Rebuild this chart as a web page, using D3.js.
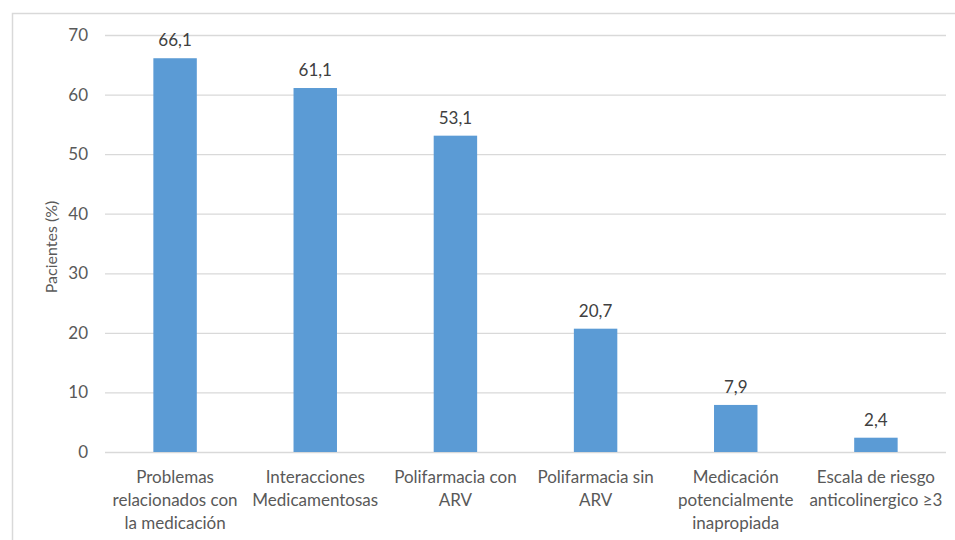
<!DOCTYPE html>
<html>
<head>
<meta charset="utf-8">
<script src="https://cdn.jsdelivr.net/npm/d3@7"></script>
<style>
  body { margin: 0; background: #fff; }
  text { font-family: Lato, "Open Sans", sans-serif; }
</style>
</head>
<body>
<div id="chart"></div>
<script>
var categories = [
    ["Problemas", "relacionados con", "la medicación"],
    ["Interacciones", "Medicamentosas"],
    ["Polifarmacia con", "ARV"],
    ["Polifarmacia sin", "ARV"],
    ["Medicación", "potencialmente", "inapropiada"],
    ["Escala de riesgo", "anticolinergico ≥3"]
];
var values = [66.1, 61.1, 53.1, 20.7, 7.9, 2.4];
var yTicks = [0, 10, 20, 30, 40, 50, 60, 70];

function go() {
    var width = 955, height = 540;
    var left = 105, right = 946, top = 35, bottom = 452;

    var svg = d3.select("#chart").append("svg")
        .attr("width", width)
        .attr("height", height);

    // outer frame
    svg.append("rect")
        .attr("x", 12.5).attr("y", 13.5)
        .attr("width", 960).attr("height", 560)
        .attr("fill", "none")
        .attr("stroke", "#d9d9d9")
        .attr("stroke-width", 1.5);

    var idx = categories.map(function (d, i) { return i; });
    var x = d3.scaleBand().domain(idx).range([left, right])
        .paddingInner(0.69).paddingOuter(0.345);
    var y = d3.scaleLinear().domain([0, 70]).range([bottom, top]);

    // gridlines
    svg.append("g").selectAll("line")
        .data(yTicks)
        .enter().append("line")
        .attr("x1", left).attr("x2", right)
        .attr("y1", function (d) { return y(d) + 0.5; })
        .attr("y2", function (d) { return y(d) + 0.5; })
        .attr("stroke", "#d9d9d9")
        .attr("stroke-width", 1.3);

    // y tick labels
    var yAxis = svg.append("g")
        .attr("transform", "translate(" + left + ",0)")
        .call(d3.axisLeft(y).tickValues(yTicks).tickSize(0).tickPadding(17).tickFormat(d3.format("d")));
    yAxis.select(".domain").remove();
    yAxis.selectAll("text")
        .attr("fill", "#595959")
        .style("font-size", "17px")
        .style("font-family", "Lato, sans-serif");

    // bars
    svg.append("g").selectAll("rect")
        .data(values)
        .enter().append("rect")
        .attr("x", function (d, i) { return x(i); })
        .attr("y", function (d) { return y(d); })
        .attr("width", x.bandwidth())
        .attr("height", function (d) { return y(0) - y(d); })
        .attr("fill", "#5b9bd5");

    // value labels
    svg.append("g").selectAll("text")
        .data(values)
        .enter().append("text")
        .attr("x", function (d, i) { return x(i) + x.bandwidth() / 2; })
        .attr("y", function (d) { return y(d) - 12; })
        .attr("text-anchor", "middle")
        .attr("fill", "#404040")
        .style("font-size", "17px")
        .text(function (d) { return d3.format(".1f")(d).replace(".", ","); });

    // category labels
    var cat = svg.append("g").selectAll("text")
        .data(categories)
        .enter().append("text")
        .attr("text-anchor", "middle")
        .attr("fill", "#595959")
        .style("font-size", "17px");
    cat.each(function (lines, i) {
        var t = d3.select(this);
        lines.forEach(function (l, j) {
            t.append("tspan")
                .attr("x", x(i) + x.bandwidth() / 2)
                .attr("y", 483 + j * 23)
                .text(l);
        });
    });

    // y axis title
    svg.append("text")
        .attr("transform", "translate(57,247) rotate(-90)")
        .attr("text-anchor", "middle")
        .attr("fill", "#595959")
        .style("font-size", "16px")
        .text("Pacientes (%)");
}

document.addEventListener("DOMContentLoaded", function () { go(); });
</script>
</body>
</html>
